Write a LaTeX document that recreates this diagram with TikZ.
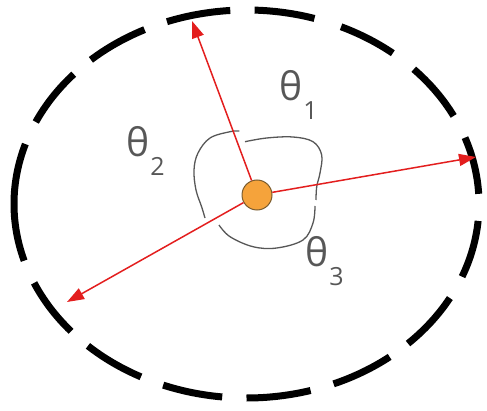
\documentclass[tikz,border=0pt]{standalone}
\usepackage{fontspec}
\setmainfont{Open Sans}
\usepackage{tikz}
\usetikzlibrary{arrows.meta, calc}
\definecolor{rayred}{HTML}{E31E1E}
\definecolor{srcorange}{HTML}{F5A33B}
\definecolor{srcedge}{HTML}{7A5C2E}
\definecolor{anglegray}{HTML}{575757}
\newcommand{\thetalabel}[1]{\fontsize{39}{39}\selectfont θ\kern1pt\raisebox{-19pt}{\fontsize{25}{25}\selectfont #1}}

\begin{document}
\begin{tikzpicture}[x=1pt, y=1pt,
        rim/.style={draw=black, line width=7pt},
        ray/.style={draw=rayred, line width=1.5pt, -{Triangle[length=17pt, width=12pt]}},
        anglearc/.style={draw=anglegray, line width=1.3pt},
        source/.style={circle, draw=srcedge, fill=srcorange, line width=1pt, minimum size=30pt, inner sep=0pt},
        anglelabel/.style={anchor=base west, inner sep=0pt, text=anglegray}
    ]
        \useasboundingbox (0,0) rectangle (487,410);
        \coordinate (rimc) at (246.5,206);

        % dashed boundary, one arc per dash
        \foreach \s/\e in {94/110, 73/88, 51/66, 27/44, 3/20, -22/-5, -46/-29, -68/-52,
                           -90/-74, -111/-96, -133/-117, -156/-139, 162/197, 138/155, 116/132}
            \draw[rim] ($(rimc)+(\s:232.5pt and 194pt)$) arc[start angle=\s, end angle=\e, x radius=232.5pt, y radius=194pt];

        \node [source] (src) at (257,215) {};
        \coordinate (tipup) at (192,389);
        \coordinate (tipright) at (476,253);
        \coordinate (tipleft) at (67,108);

        % angle arcs
        \draw[anglearc] plot[smooth, tension=0.6] coordinates {(239.3,279) (230,278.3) (210,272) (198,257) (194,240) (196,220) (201.7,203) (205,192)};
        \draw[anglearc] plot[smooth, tension=0.6] coordinates {(245,268.3) (266.7,272) (293,273) (313,268.3) (321.7,255) (320,237) (316.7,223.3) (316,210)};
        \draw[anglearc] plot[smooth, tension=0.6] coordinates {(315,204) (313,187) (303,170) (276.7,162) (253,163.3) (230,173.3) (219,185)};

        \path [ray] (src) -- (tipup);
        \path [ray] (src) -- (tipright);
        \path [ray] (src) -- (tipleft);

        \node [anglelabel] (th1) at (279,309) {\thetalabel{1}};
        \node [anglelabel] (th2) at (126,253) {\thetalabel{2}};
        \node [anglelabel] (th3) at (305,143) {\thetalabel{3}};
\end{tikzpicture}
\end{document}
